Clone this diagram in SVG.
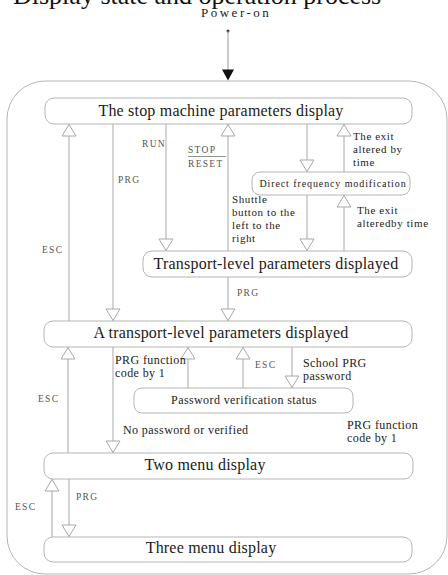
<svg xmlns="http://www.w3.org/2000/svg" width="448" height="575" viewBox="0 0 448 575">
<defs>
<style>
.box{fill:#fff;stroke:#b4b4b4;stroke-width:1}
.frame{fill:none;stroke:#b4b4b4;stroke-width:1}
.ln{stroke:#a8a8a8;stroke-width:1;fill:none}
.ah{fill:#fff;stroke:#a8a8a8;stroke-width:1}
.big{font-family:"Liberation Serif","Times New Roman",serif;font-size:16px;fill:#1a1a1a;letter-spacing:0.2px}
.mid{font-family:"Liberation Serif","Times New Roman",serif;font-size:12px;fill:#222;letter-spacing:0.4px}
.sm{font-family:"Liberation Serif","Times New Roman",serif;font-size:11px;fill:#222;letter-spacing:0.6px}
.key{font-family:"Liberation Serif","Times New Roman",serif;font-size:9.5px;fill:#555;letter-spacing:1.3px}
</style>
</defs>
<text x="13" y="4" font-family="Liberation Serif,'Times New Roman',serif" font-size="26" fill="#111">Display state and operation process</text>
<text x="201" y="17" font-family="Liberation Serif,'Times New Roman',serif" font-size="13" fill="#222" letter-spacing="2.5">Power-on</text>
<rect class="frame" x="7" y="81" width="440" height="493" rx="38" ry="38"/>
<g id="connectors">
<circle cx="228" cy="31" r="1.5" fill="#333"/>
<line x1="228" y1="31" x2="228" y2="70" stroke="#999" stroke-width="1"/>
<path d="M222,69.5 L234,69.5 L228,80.5 Z" fill="#111"/>
<g class="ln">
<path d="M69,321 V124"/>
<path d="M113,124 V321"/>
<path d="M166,124 V251"/>
<path d="M228,251 V124"/>
<path d="M307,124 V172"/>
<path d="M344,172 V124"/>
<path d="M307,195 V251"/>
<path d="M344,251 V195"/>
<path d="M228,277 V321"/>
<path d="M68,453 V347"/>
<path d="M113,347 V453"/>
<path d="M188,388 V347"/>
<path d="M243,388 V347"/>
<path d="M292,347 V388"/>
<path d="M52,537 V479"/>
<path d="M69,479 V537"/>
</g>
<g>
<path class="ah" d="M69,124.5 L62,136 L76,136 Z"/>
<path class="ah" d="M228,124.5 L221,136 L235,136 Z"/>
<path class="ah" d="M344,124.5 L337,136 L351,136 Z"/>
<path class="ah" d="M344,195.5 L337,207 L351,207 Z"/>
<path class="ah" d="M68,347.5 L61,359 L75,359 Z"/>
<path class="ah" d="M188,347.5 L181,359 L195,359 Z"/>
<path class="ah" d="M243,347.5 L236,359 L250,359 Z"/>
<path class="ah" d="M52,479.5 L45,491 L59,491 Z"/>
<path class="ah" d="M113,320.5 L106,309 L120,309 Z"/>
<path class="ah" d="M166,250.5 L159,239 L173,239 Z"/>
<path class="ah" d="M307,171.5 L300,160 L314,160 Z"/>
<path class="ah" d="M307,250.5 L300,239 L314,239 Z"/>
<path class="ah" d="M228,320.5 L221,309 L235,309 Z"/>
<path class="ah" d="M113,452.5 L106,441 L120,441 Z"/>
<path class="ah" d="M292,387.5 L285,376 L299,376 Z"/>
<path class="ah" d="M69,536.5 L62,525 L76,525 Z"/>
</g>
<text class="key" x="142" y="147">RUN</text>
<text class="key" x="118" y="183">PRG</text>
<text class="key" x="188" y="153">STOP</text>
<line x1="188" y1="156.5" x2="226" y2="156.5" stroke="#777" stroke-width="0.8"/>
<text class="key" x="188" y="167">RESET</text>
<text class="key" x="42" y="253">ESC</text>
<text class="sm" x="353" y="140">The exit</text>
<text class="sm" x="353" y="153">altered by</text>
<text class="sm" x="353" y="166">time</text>
<text class="sm" x="357" y="214">The exit</text>
<text class="sm" x="357" y="227">alteredby time</text>
<text class="sm" x="232" y="203">Shuttle</text>
<text class="sm" x="232" y="216">button to the</text>
<text class="sm" x="232" y="229">left to the</text>
<text class="sm" x="232" y="242">right</text>
<text class="key" x="237" y="296">PRG</text>
<text class="mid" x="115" y="364">PRG function</text>
<text class="mid" x="115" y="377">code by 1</text>
<text class="key" x="255" y="368">ESC</text>
<text class="mid" x="303" y="367">School PRG</text>
<text class="mid" x="303" y="380">password</text>
<text class="key" x="38" y="402">ESC</text>
<text class="mid" x="123" y="434">No password or verified</text>
<text class="mid" x="347" y="429">PRG function</text>
<text class="mid" x="347" y="442">code by 1</text>
<text class="key" x="15" y="510">ESC</text>
<text class="key" x="76" y="500">PRG</text>
</g>
<g id="stop">
<rect class="box" x="45" y="98" width="367" height="26" rx="9"/>
<text class="big" x="221" y="116" text-anchor="middle">The stop machine parameters display</text>
</g>
<g id="direct">
<rect class="box" x="252" y="172" width="158" height="23" rx="8"/>
<text x="333" y="187" text-anchor="middle" font-family="Liberation Serif,'Times New Roman',serif" font-size="10" fill="#222" letter-spacing="0.9">Direct frequency modification</text>
</g>
<g id="transport">
<rect class="box" x="143" y="251" width="269" height="26" rx="9"/>
<text class="big" x="276" y="269" text-anchor="middle">Transport-level parameters displayed</text>
</g>
<g id="atransport">
<rect class="box" x="44" y="321" width="368" height="26" rx="9"/>
<text class="big" x="221" y="338" text-anchor="middle">A transport-level parameters displayed</text>
</g>
<g id="password">
<rect class="box" x="134" y="388" width="219" height="25" rx="8"/>
<text class="mid" x="244" y="404" text-anchor="middle">Password verification status</text>
</g>
<g id="twomenu">
<rect class="box" x="44" y="453" width="369" height="26" rx="9"/>
<text class="big" x="205" y="470" text-anchor="middle">Two menu display</text>
</g>
<g id="threemenu">
<rect class="box" x="44" y="537" width="368" height="25" rx="9"/>
<text class="big" x="211" y="553" text-anchor="middle">Three menu display</text>
</g>
</svg>
